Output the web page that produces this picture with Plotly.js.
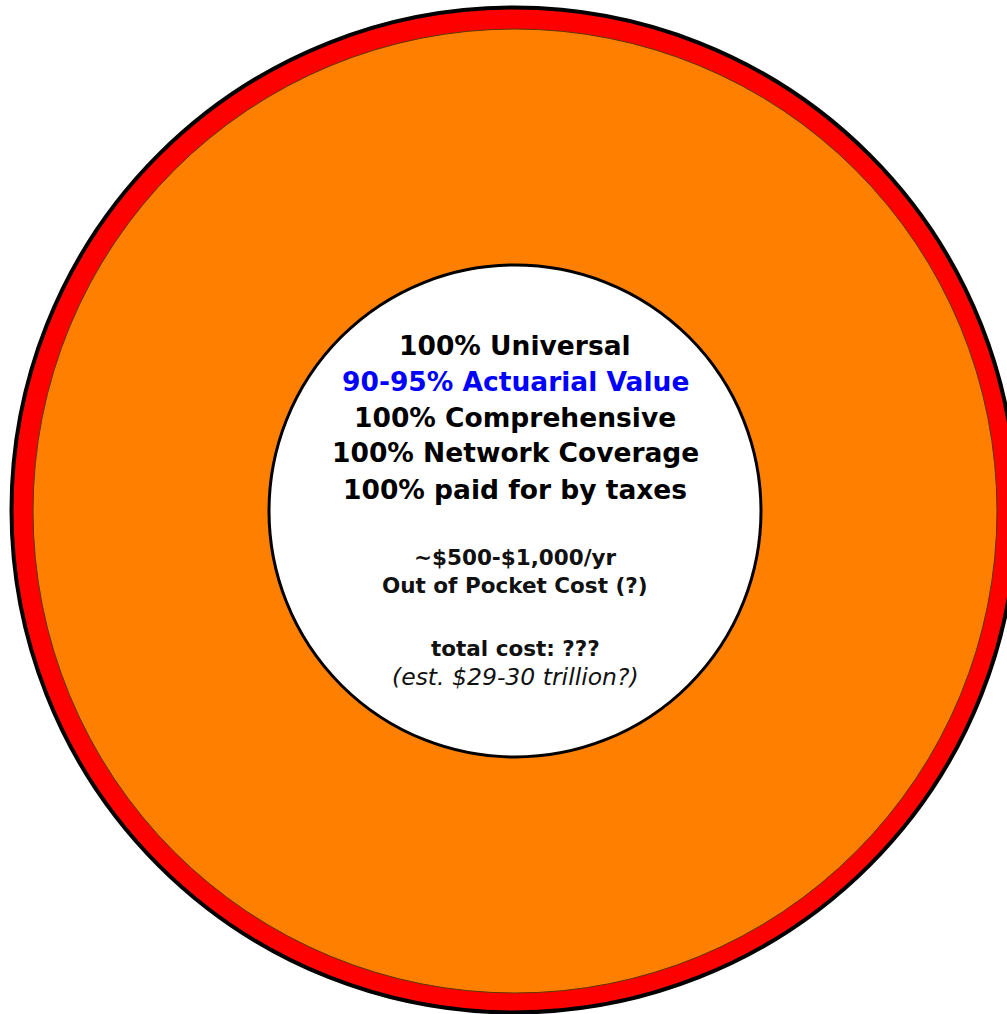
<!DOCTYPE html>
<html>
<head>
<meta charset="utf-8">
<script src="https://cdn.plot.ly/plotly-3.0.1.min.js"></script>
<style>
html,body{margin:0;padding:0;overflow:hidden;background:#fff;}
#chart{width:1030px;height:1014px;}
</style>
</head>
<body>
<div id="chart"></div>
<script>
// ---- data ----
const ringLabels = ["Outer ring", "Coverage", "Core plan"];
const ringValues = [100, 100, 100];
const ringColors = ["#ff0000", "#ff8000", "#ffffff"];
const headlineLines = [
  "100% Universal",
  "90-95% Actuarial Value",
  "100% Comprehensive",
  "100% Network Coverage",
  "100% paid for by taxes"
];
const headlineColors = ["#000000", "#0000ff", "#000000", "#000000", "#000000"];
const costLines = ["~$500-$1,000/yr", "Out of Pocket Cost (?)"];
const totalLines = ["total cost: ???", "(est. $29-30 trillion?)"];

// ---- layout helpers ----
const W = 1030, H = 1014;
function dom(cx, cy, r) {
  return {
    x: [(cx - r) / W, (cx + r) / W],
    y: [1 - (cy + r) / H, 1 - (cy - r) / H]
  };
}
const rings = [
  {cx: 514, cy: 510, r: 502.5, lw: 4, lc: "#000000"},
  {cx: 515, cy: 511, r: 482, lw: 1, lc: "#5a3500"},
  {cx: 515, cy: 511, r: 246, lw: 3, lc: "#000000"}
];
const traces = rings.map((g, i) => ({
  type: "pie",
  labels: [ringLabels[i]],
  values: [ringValues[i]],
  marker: {colors: [ringColors[i]], line: {color: g.lc, width: g.lw}},
  textinfo: "none",
  hoverinfo: "skip",
  sort: false,
  showlegend: false,
  domain: dom(g.cx, g.cy, g.r)
}));

const FONT = "DejaVu Sans, sans-serif";
const annotations = [];
function addLine(text, yPx, size, color) {
  annotations.push({
    text: text, xref: "paper", yref: "paper",
    x: 515 / W, y: 1 - yPx / H, xanchor: "center", yanchor: "middle",
    showarrow: false, font: {family: FONT, size: size, color: color}
  });
}
headlineLines.forEach((t, i) => addLine("<b>" + t + "</b>", 345 + i * 36, 26.5, headlineColors[i]));
costLines.forEach((t, i) => addLine("<b>" + t + "</b>", 557 + i * 28.5, 21.5, "#111111"));
addLine("<b>" + totalLines[0] + "</b>", 648, 21.5, "#111111");
addLine("<i>" + totalLines[1] + "</i>", 677, 23.5, "#111111");

const layout = {
  width: W, height: H,
  margin: {l: 0, r: 0, t: 0, b: 0},
  paper_bgcolor: "#ffffff",
  showlegend: false,
  annotations: annotations
};
Plotly.newPlot("chart", traces, layout, {displayModeBar: false, staticPlot: true});
</script>
</body>
</html>
